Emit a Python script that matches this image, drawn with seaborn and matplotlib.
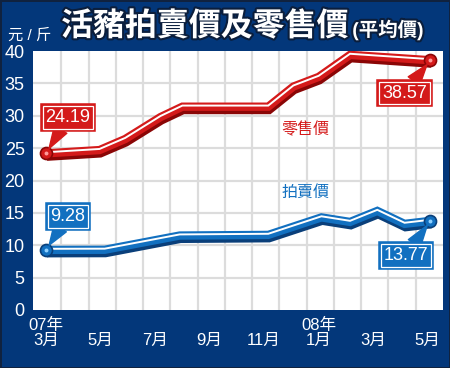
import numpy as np
import pandas as pd
import matplotlib
matplotlib.use("Agg")
import matplotlib.pyplot as plt
import matplotlib.patheffects as pe
import seaborn as sns

# month index: 0 = 2007-03 ... 14 = 2008-05
retail_x = [0, 1.96, 2.9, 4.2, 5.0, 8.15, 9.07, 10.0, 11.15, 14.1]
retail_y = [24.19, 24.7, 26.4, 29.8, 31.4, 31.4, 34.5, 36.0, 39.4, 38.57]
auction_x = [0, 2.15, 4.9, 8.15, 10.1, 11.15, 12.15, 13.15, 14.1]
auction_y = [9.28, 9.3, 11.5, 11.6, 14.3, 13.6, 15.3, 13.3, 13.77]

tick_pos = [0, 2, 4, 6, 8, 10, 12, 14]
tick_labels = ["07年\n3月", "\n5月", "\n7月", "\n9月", "\n11月", "08年\n1月", "\n3月", "\n5月"]

NAVY = "#03377a"
RED = "#d41a1a"
DARKRED = "#8a0606"
BLUE = "#1270c0"
DARKBLUE = "#0a3f7a"

sns.set_style("white")
plt.rcParams['font.family'] = ['Liberation Sans', 'Noto Sans CJK TC', 'DejaVu Sans']

fig = plt.figure(figsize=(4.5, 3.68), dpi=100)
fig.patch.set_facecolor(NAVY)
fig.patch.set_edgecolor("#10223f")
fig.patch.set_linewidth(2)
ax = fig.add_axes([33 / 450, 1 - 310 / 368, 410 / 450, 259 / 368])
ax.set_facecolor("white")

retail = pd.DataFrame({"x": retail_x, "y": retail_y})
auction = pd.DataFrame({"x": auction_x, "y": auction_y})


def fancy_line(df, main, dark):
    sns.lineplot(data=df, x="x", y="y", ax=ax, color=main, lw=6, sort=False,
                 solid_joinstyle="miter", solid_capstyle="butt",
                 path_effects=[pe.SimpleLineShadow(offset=(0.6, -2.4), shadow_color=dark, alpha=1),
                               pe.Normal()], zorder=3)
    sns.lineplot(data=df, x="x", y="y", ax=ax, color="white", lw=1.4, sort=False,
                 solid_joinstyle="miter",
                 path_effects=[pe.SimpleLineShadow(offset=(0, 0.8), shadow_color="white", alpha=1)],
                 zorder=4)
    ends = df.iloc[[0, -1]]
    sns.scatterplot(data=ends, x="x", y="y", ax=ax, s=75, color=main, edgecolor=dark,
                    linewidth=1.2, zorder=5)
    sns.scatterplot(data=ends, x="x", y="y", ax=ax, s=8, color="#ff9a9a" if main == RED else "#8fd0ff",
                    linewidth=0, zorder=6)


fancy_line(retail, RED, DARKRED)
fancy_line(auction, BLUE, DARKBLUE)

ax.set_xlim(-0.48, 14.56)
ax.set_ylim(0, 40)
ax.set_xlabel("")
ax.set_ylabel("")

ax.set_yticks(range(0, 41, 5))
ax.set_xticks(tick_pos)
ax.set_xticklabels(tick_labels)
ax.set_xticks(np.arange(0.56, 14.6, 1.0), minor=True)
ax.grid(False)
for v in range(5, 40, 5):
    ax.axhline(v, color="#dcdcdc", lw=1.6, zorder=1)
for v in np.arange(0.56, 14.0, 1.0):
    ax.axvline(v, color="#dcdcdc", lw=1.6, zorder=1)

ax.tick_params(axis="x", which="major", length=0, colors="white", labelsize=12, pad=6)
ax.tick_params(axis="x", which="minor", length=5, width=1, color="white", direction="out")
ax.tick_params(axis="y", length=4, width=1, color="white", direction="out", labelcolor="white",
               labelsize=13, pad=2)
for s in ax.spines.values():
    s.set_visible(False)
for lab in ax.get_xticklabels():
    lab.set_linespacing(0.95)


def value_box(txt, xy, xytext, main):
    t = ax.annotate(txt, xy=xy, xytext=xytext, textcoords="data", ha="center", va="center",
                    color="white", fontsize=13,
                    bbox=dict(boxstyle="square,pad=0.16", fc=main, ec="white", lw=0.9),
                    arrowprops=dict(arrowstyle="wedge,tail_width=0.8,shrink_factor=0.5",
                                    fc=main, ec=main, shrinkA=0, shrinkB=4),
                    zorder=7)
    t.get_bbox_patch().set_path_effects([pe.Stroke(linewidth=4, foreground=main), pe.Normal()])


value_box("24.19", (retail_x[0], retail_y[0]), (0.8, 29.7), RED)
value_box("38.57", (retail_x[-1], retail_y[-1]), (13.15, 33.5), RED)
value_box("9.28", (auction_x[0], auction_y[0]), (0.8, 14.5), BLUE)
value_box("13.77", (auction_x[-1], auction_y[-1]), (13.2, 8.4), BLUE)

ax.text(9.5, 27.8, "零售價", color=RED, fontsize=11.5, ha="center", va="center")
ax.text(9.5, 18.2, "拍賣價", color=BLUE, fontsize=11.5, ha="center", va="center")

outline = [pe.Stroke(linewidth=3, foreground="#0b1e3c"), pe.Normal()]
fig.text(205 / 450, 1 - 27 / 368, "活豬拍賣價及零售價", color="white", fontsize=23,
         fontweight="bold", ha="center", va="center", path_effects=outline)
fig.text(388 / 450, 1 - 30 / 368, "(平均價)", color="white", fontsize=14,
         fontweight="bold", ha="center", va="center", path_effects=outline)
fig.text(8 / 450, 1 - 36 / 368, "元 / 斤", color="white", fontsize=11, ha="left", va="center")

fig.savefig("out.png", dpi=100, facecolor=fig.get_facecolor(), edgecolor=fig.get_edgecolor())
